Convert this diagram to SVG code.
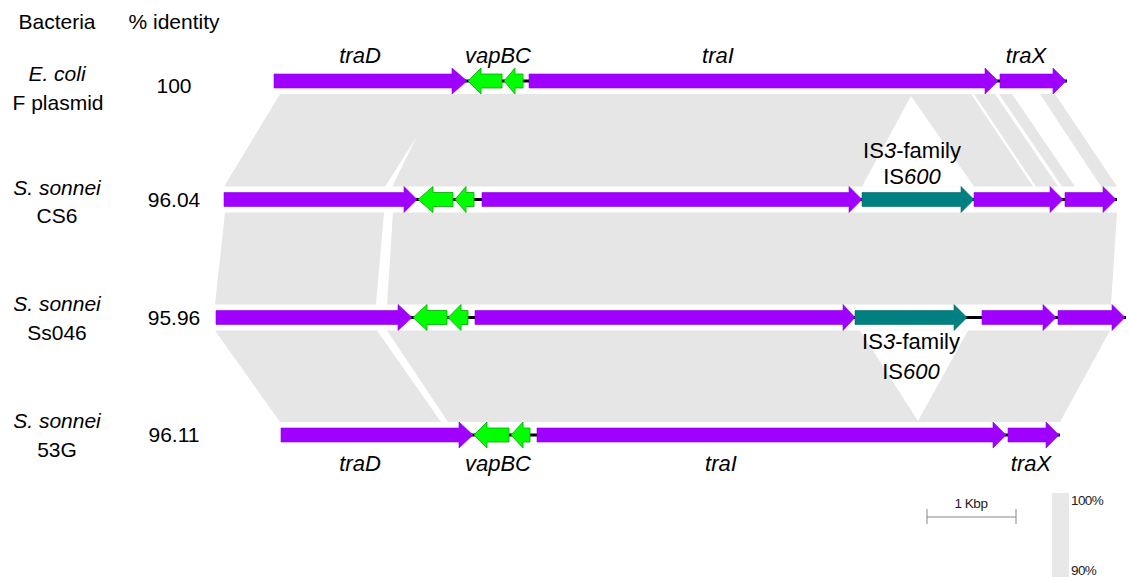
<svg xmlns="http://www.w3.org/2000/svg" width="1129" height="581" viewBox="0 0 1129 581">
<style>
text{font-family:"Liberation Sans",Arial,sans-serif;fill:#000}
.h{font-size:21px}
.lab{font-size:21px;text-anchor:middle}
.it{font-style:italic}
.gene{font-size:22px;font-style:italic;text-anchor:middle}
.is{font-size:22px;text-anchor:middle}
.band{fill:#e6e6e6}
.gap{fill:#ffffff}
.bb{stroke:#000;stroke-width:3}
.pu{fill:#a000ff;stroke:#8a00dd;stroke-width:0.6}
.gr{fill:#00ff00;stroke:#00a800;stroke-width:0.8}
.te{fill:#008080;stroke:#006a6a;stroke-width:0.6}
.small{font-size:13.5px;fill:#222}
</style>

<!-- comparison bands -->
<g id="connectors">
  <polygon class="band" points="280,94 971,94 1033,186.5 224,186.5"/>
  <polygon class="gap" points="911,96 862,186.5 974,186.5"/>
  <polygon class="gap" points="417,136 385,187 392,187"/>
  <polygon class="band" points="974,94 995,94 1058,186.5 1036,186.5"/>
  <polygon class="band" points="999,94 1012,94 1075,186.5 1062,186.5"/>
  <polygon class="band" points="1040,94 1055,94 1117,186.5 1101,186.5"/>

  <polygon class="band" points="225,212.5 384,212.5 376,304.5 215,304.5"/>
  <polygon class="band" points="393,212.5 1117,212.5 1111,304.5 387,304.5"/>

  <polygon class="band" points="215,330.5 377,330.5 441,422 280,422"/>
  <polygon class="band" points="387,330.5 1110,330.5 1060,422 448,422"/>
  <polygon class="gap" points="860,330.5 968,330.5 918,421"/>
</g>

<!-- headers -->
<g id="headers">
  <text class="h" x="57" y="29" text-anchor="middle">Bacteria</text>
  <text class="h" x="174" y="29" text-anchor="middle">% identity</text>
</g>

<!-- row labels -->
<g id="label-ecoli">
  <text class="lab it" x="57" y="81">E. coli</text>
  <text class="lab" x="58" y="110">F plasmid</text>
  <text class="lab" x="174" y="93">100</text>
</g>
<g id="label-cs6">
  <text class="lab it" x="57" y="195">S. sonnei</text>
  <text class="lab" x="57" y="223">CS6</text>
  <text class="lab" x="174" y="207">96.04</text>
</g>
<g id="label-ss046">
  <text class="lab it" x="57" y="311">S. sonnei</text>
  <text class="lab" x="57" y="340">Ss046</text>
  <text class="lab" x="174" y="325">95.96</text>
</g>
<g id="label-53g">
  <text class="lab it" x="57" y="428">S. sonnei</text>
  <text class="lab" x="57" y="457">53G</text>
  <text class="lab" x="174" y="442">96.11</text>
</g>

<!-- Row 1: E. coli F plasmid (cy=81) -->
<g id="row1">
  <line class="bb" x1="274" y1="81" x2="1067" y2="81"/>
  <path id="r1-traD" class="pu" d="M274,74 L452,74 L452,68 L467,81 L452,94 L452,88 L274,88 Z"/>
  <path id="r1-vapC" class="gr" d="M502,74 L481,74 L481,68 L468,81 L481,94 L481,88 L502,88 Z"/>
  <path id="r1-vapB" class="gr" d="M523,74 L515,74 L515,68 L504,81 L515,94 L515,88 L523,88 Z"/>
  <path id="r1-traI" class="pu" d="M529,74 L985,74 L985,68 L998,81 L985,94 L985,88 L529,88 Z"/>
  <path id="r1-traX" class="pu" d="M1000,74 L1053,74 L1053,68 L1066,81 L1053,94 L1053,88 L1000,88 Z"/>
  <text class="gene" x="360" y="63">traD</text>
  <text class="gene" x="498" y="63">vapBC</text>
  <text class="gene" x="718" y="63">traI</text>
  <text class="gene" x="1026" y="63">traX</text>
</g>

<!-- Row 2: CS6 (cy=199.5) -->
<g id="row2">
  <line class="bb" x1="224" y1="199.5" x2="1117" y2="199.5"/>
  <path id="r2-traD" class="pu" d="M224,192.5 L404,192.5 L404,186.5 L417,199.5 L404,212.5 L404,206.5 L224,206.5 Z"/>
  <path id="r2-vapC" class="gr" d="M453,192.5 L433,192.5 L433,186.5 L418,199.5 L433,212.5 L433,206.5 L453,206.5 Z"/>
  <path id="r2-vapB" class="gr" d="M474,192.5 L466,192.5 L466,186.5 L455,199.5 L466,212.5 L466,206.5 L474,206.5 Z"/>
  <path id="r2-traI" class="pu" d="M482,192.5 L849,192.5 L849,186.5 L862,199.5 L849,212.5 L849,206.5 L482,206.5 Z"/>
  <path id="r2-IS600" class="te" d="M862,192.5 L961,192.5 L961,186.5 L974,199.5 L961,212.5 L961,206.5 L862,206.5 Z"/>
  <path id="r2-traI-b" class="pu" d="M974,192.5 L1050,192.5 L1050,186.5 L1063,199.5 L1050,212.5 L1050,206.5 L974,206.5 Z"/>
  <path id="r2-traX" class="pu" d="M1065,192.5 L1103,192.5 L1103,186.5 L1116,199.5 L1103,212.5 L1103,206.5 L1065,206.5 Z"/>
  <text class="is" x="912" y="158">IS<tspan class="it">3</tspan>-family</text>
  <text class="is" x="912" y="184">IS<tspan class="it">600</tspan></text>
</g>

<!-- Row 3: Ss046 (cy=317.5) -->
<g id="row3">
  <line class="bb" x1="216" y1="317.5" x2="1126" y2="317.5"/>
  <path id="r3-traD" class="pu" d="M216,310.5 L398,310.5 L398,304.5 L412,317.5 L398,330.5 L398,324.5 L216,324.5 Z"/>
  <path id="r3-vapC" class="gr" d="M447,310.5 L427,310.5 L427,304.5 L413,317.5 L427,330.5 L427,324.5 L447,324.5 Z"/>
  <path id="r3-vapB" class="gr" d="M468,310.5 L461,310.5 L461,304.5 L448,317.5 L461,330.5 L461,324.5 L468,324.5 Z"/>
  <path id="r3-traI" class="pu" d="M475,310.5 L843,310.5 L843,304.5 L855,317.5 L843,330.5 L843,324.5 L475,324.5 Z"/>
  <path id="r3-IS600" class="te" d="M855,310.5 L954,310.5 L954,304.5 L967,317.5 L954,330.5 L954,324.5 L855,324.5 Z"/>
  <path id="r3-traI-b" class="pu" d="M982,310.5 L1043,310.5 L1043,304.5 L1056,317.5 L1043,330.5 L1043,324.5 L982,324.5 Z"/>
  <path id="r3-traX" class="pu" d="M1058,310.5 L1112,310.5 L1112,304.5 L1125,317.5 L1112,330.5 L1112,324.5 L1058,324.5 Z"/>
  <text class="is" x="911" y="349">IS<tspan class="it">3</tspan>-family</text>
  <text class="is" x="911" y="379">IS<tspan class="it">600</tspan></text>
</g>

<!-- Row 4: 53G (cy=435) -->
<g id="row4">
  <line class="bb" x1="281" y1="435" x2="1060" y2="435"/>
  <path id="r4-traD" class="pu" d="M281,428 L459,428 L459,422 L473,435 L459,448 L459,442 L281,442 Z"/>
  <path id="r4-vapC" class="gr" d="M509,428 L487,428 L487,422 L474,435 L487,448 L487,442 L509,442 Z"/>
  <path id="r4-vapB" class="gr" d="M530,428 L523,428 L523,422 L511,435 L523,448 L523,442 L530,442 Z"/>
  <path id="r4-traI" class="pu" d="M537,428 L993,428 L993,422 L1006,435 L993,448 L993,442 L537,442 Z"/>
  <path id="r4-traX" class="pu" d="M1008,428 L1046,428 L1046,422 L1059,435 L1046,448 L1046,442 L1008,442 Z"/>
  <text class="gene" x="360" y="471">traD</text>
  <text class="gene" x="498" y="471">vapBC</text>
  <text class="gene" x="721" y="471">traI</text>
  <text class="gene" x="1031" y="471">traX</text>
</g>

<!-- scale bar -->
<g id="scale">
  <line x1="927" y1="517" x2="1016" y2="517" stroke="#888" stroke-width="1"/>
  <line x1="927" y1="509" x2="927" y2="524" stroke="#888" stroke-width="1"/>
  <line x1="1016" y1="509" x2="1016" y2="524" stroke="#888" stroke-width="1"/>
  <text class="small" x="971" y="508" text-anchor="middle" letter-spacing="-0.5">1 Kbp</text>
</g>
<g id="identity-legend">
  <rect x="1052" y="493" width="17" height="84" fill="#e8e8e8"/>
  <text class="small" x="1071" y="505" letter-spacing="-0.6">100%</text>
  <text class="small" x="1071" y="575" letter-spacing="-0.6">90%</text>
</g>
</svg>
